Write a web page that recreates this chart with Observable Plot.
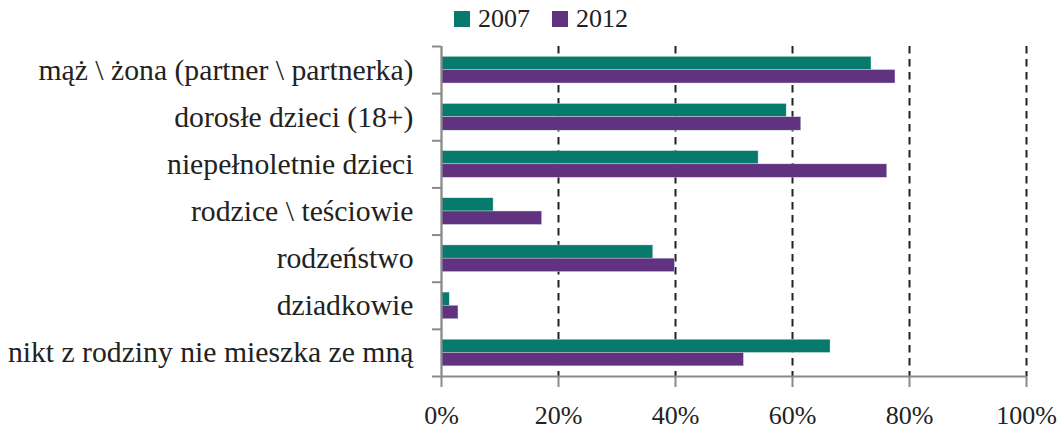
<!DOCTYPE html>
<html>
<head>
<meta charset="utf-8">
<script src="https://cdn.jsdelivr.net/npm/d3@7"></script>
<script src="https://cdn.jsdelivr.net/npm/@observablehq/plot@0.6"></script>
<style>
  html, body { margin: 0; padding: 0; background: #fff; }
  body { width: 1061px; height: 429px; overflow: hidden; font-family: "Liberation Serif", serif; }
  #legend { position: relative; height: 36px; }
  .lg { position: absolute; top: 10px; height: 17px; display: flex; align-items: center; font-size: 26px; color: #222; line-height: 17px; }
  .sw { width: 16px; height: 16px; margin-right: 8px; }
</style>
</head>
<body>
<div id="legend"></div>
<div id="chart"></div>
<script>
const categories = [
  "mąż \\ żona (partner \\ partnerka)",
  "dorosłe dzieci (18+)",
  "niepełnoletnie dzieci",
  "rodzice \\ teściowie",
  "rodzeństwo",
  "dziadkowie",
  "nikt z rodziny nie mieszka ze mną"
];
const years = ["2007", "2012"];
const values2007 = [73.5, 59.0, 54.2, 8.9, 36.2, 1.4, 66.5];
const values2012 = [77.6, 61.5, 76.2, 17.2, 39.9, 2.9, 51.7];
const colors = ["#077a6e", "#60327f"];
const xTicks = [0, 20, 40, 60, 80, 100];
const gridTicks = [20, 40, 60, 80, 100];

const FONT = "Liberation Serif";

// legend
const legend = document.getElementById("legend");
const legendLeft = [454, 552];
years.forEach((y, k) => {
  const d = document.createElement("div");
  d.className = "lg";
  d.style.left = legendLeft[k] + "px";
  d.innerHTML = `<span class="sw" style="background:${colors[k]}"></span><span>${y}</span>`;
  legend.appendChild(d);
});

// rows: each category occupies one unit on a linear y; 2007 bar in upper half, 2012 in lower half
const rows = [];
categories.forEach((c, i) => {
  rows.push({cat: c, year: "2007", value: values2007[i], y1: i + 0.22, y2: i + 0.5});
  rows.push({cat: c, year: "2012", value: values2012[i], y1: i + 0.5, y2: i + 0.785});
});

const chart = Plot.plot({
  width: 1061,
  height: 393,
  marginLeft: 441,
  marginRight: 35,
  marginTop: 10,
  marginBottom: 53,
  style: {fontFamily: FONT, fontSize: "26px", color: "#222", background: "#fff"},
  x: {domain: [0, 100]},
  y: {type: "linear", domain: [0, categories.length], reverse: true},
  color: {domain: years, range: colors},
  marks: [
    Plot.ruleX(gridTicks, {stroke: "#222", strokeWidth: 2, strokeDasharray: "7.5,5.5"}),
    Plot.rectX(rows, {x1: 0, x2: "value", y1: "y1", y2: "y2", fill: "year", stroke: "#cfe9e4", strokeWidth: 0.4}),
    Plot.axisY({ticks: categories.map((_, i) => i + 0.5), tickFormat: d => categories[Math.floor(d)], tickSize: 0, tickPadding: 28, fontSize: 29.7, fill: "#222", label: null}),
    Plot.axisY({ticks: d3.range(categories.length + 1), tickSize: 9, tickFormat: () => "", stroke: "#8a8a8a", strokeWidth: 2, label: null}),
    Plot.axisX({ticks: xTicks, tickSize: 11, tickPadding: 18, tickFormat: d => d + "%", stroke: "#8a8a8a", strokeWidth: 2, fontSize: 26, fill: "#222", label: null}),
    Plot.ruleX([0], {stroke: "#8a8a8a", strokeWidth: 2.3}),
    Plot.ruleY([categories.length], {stroke: "#8a8a8a", strokeWidth: 2})
  ]
});
document.getElementById("chart").appendChild(chart);
</script>
</body>
</html>
